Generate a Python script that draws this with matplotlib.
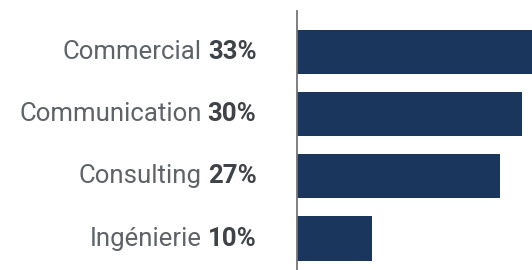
import matplotlib
matplotlib.use("Agg")
import matplotlib.pyplot as plt
from matplotlib.transforms import offset_copy

categories = ["Commercial", "Communication", "Consulting", "Ingénierie"]
values = [33, 30, 27, 10]
value_labels = ["33%", "30%", "27%", "10%"]

bar_color = "#1a365d"
label_color = "#5f6368"
bold_color = "#3f4246"

plt.rcParams["font.family"] = ["Roboto", "DejaVu Sans"]

W, H = 532, 270
fig = plt.figure(figsize=(W / 100, H / 100), dpi=100)

# axes: left edge at the bar start, extends past the right/bottom of the figure
px_per_unit = 7.53
x0 = 296.5
xmax = 33
top = 11.2
pitch = 62.3
ax_h = 4.3 * pitch
ax = fig.add_axes([x0 / W, (H - top - ax_h) / H, xmax * px_per_unit / W, ax_h / H])

y = list(range(len(categories)))
ax.barh(y, values, height=0.71, color=bar_color)
ax.set_xlim(0, xmax)
ax.set_ylim(3.65, -0.65)

for s in ["top", "right", "bottom"]:
    ax.spines[s].set_visible(False)
ax.spines["left"].set_color("#757575")
ax.spines["left"].set_linewidth(1.3)
ax.set_xticks([])
ax.set_yticks([])

fig.canvas.draw()
renderer = fig.canvas.get_renderer()
fs = 18.5
for yi, cat, lab in zip(y, categories, value_labels):
    base = offset_copy(ax.get_yaxis_transform(), fig=fig, x=-40, units="dots")
    tb = ax.text(0, yi, lab, transform=base, ha="right", va="center",
                 fontsize=fs, fontweight="bold", color=bold_color)
    bb = tb.get_window_extent(renderer)
    shift = bb.width + 6
    tr = offset_copy(ax.get_yaxis_transform(), fig=fig, x=-40 - shift, units="dots")
    ax.text(0, yi, cat, transform=tr, ha="right", va="center",
            fontsize=fs, color=label_color)

fig.savefig("out.png", dpi=100)
